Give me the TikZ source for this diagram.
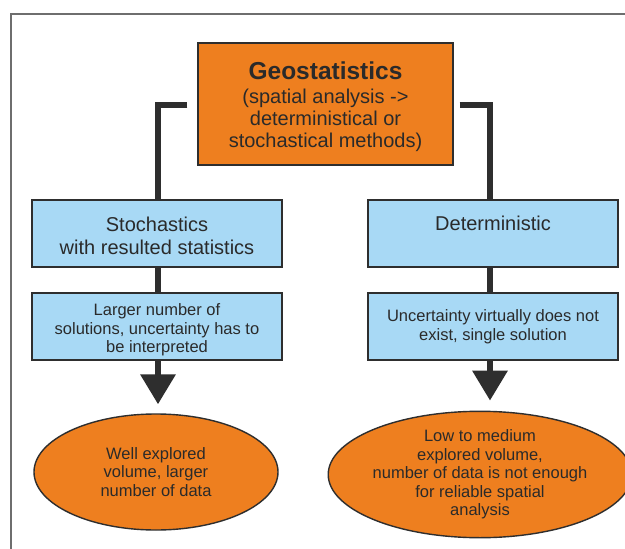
\documentclass[tikz,border=0pt]{standalone}
\usepackage{fontspec}
\setmainfont{Liberation Sans}
\usetikzlibrary{arrows.meta,shapes.geometric}
\definecolor{orng}{HTML}{EE7F1F}
\definecolor{lblue}{HTML}{A8D9F5}
\definecolor{dark}{HTML}{2E2E2E}
\definecolor{txt}{HTML}{2A2A2A}
\definecolor{framegray}{HTML}{6E6E6E}
\begin{document}
\begin{tikzpicture}[x=1pt,y=-1pt,
  box/.style={draw=dark, line width=1.4pt, rectangle, inner sep=0pt, align=center, text=txt},
  topbox/.style={box, fill=orng, minimum width=255pt, minimum height=122pt, font=\fontsize{20}{22}\selectfont},
  bluebox/.style={box, fill=lblue, minimum width=250pt, minimum height=67pt},
  oval/.style={draw=dark, line width=1.4pt, ellipse, fill=orng, inner sep=0pt, align=center, text=txt, minimum width=244pt, minimum height=116pt, font=\fontsize{16.5}{18.5}\selectfont},
  conn/.style={draw=dark, line width=6.5pt, line join=miter},
  arr/.style={conn, -{Triangle[width=34pt,length=30pt]}},
  big/.style={font=\fontsize{20}{23}\selectfont},
  small/.style={font=\fontsize{16.5}{18.5}\selectfont}
]
\useasboundingbox (0,0) rectangle (625,549);
\fill[white] (0,0) rectangle (625,549);
% frame
\draw[framegray, line width=2pt] (630,14.3) -- (11,14.3) -- (11,555);
% nodes
\node[topbox] (top) at (325.5,104) {\rule{0pt}{23pt}{\fontsize{24.5}{28}\selectfont\bfseries Geostatistics}\\[2.5pt](spatial analysis ->\\deterministical or\\stochastical methods)};
\node[bluebox, big] (stoch) at (157,233.5) {\rule{0pt}{18.5pt}Stochastics\\with resulted statistics};
\node[bluebox, big] (det) at (493,233.5) {\rule{0pt}{16pt}Deterministic\\\mbox{}};
\node[bluebox, small] (lb2) at (157,326.5) {\rule{0pt}{19pt}Larger number of\\solutions, uncertainty has to\\be interpreted};
\node[bluebox, small] (rb2) at (493,326.5) {Uncertainty virtually does not\\exist, single solution};
\node[oval] (lell) at (156,472) {Well explored\\volume, larger\\number of data};
\node[oval] (rell) at (480,474.5) {Low to medium\\explored volume,\\number of data is not enough\\for reliable spatial\\analysis};
% connector anchors
\coordinate (lstart) at ([xshift=-10pt,yshift=-1pt]top.west);
\coordinate (rstart) at ([xshift=6pt,yshift=-1pt]top.east);
\coordinate (dettop) at ([xshift=-3pt]det.north);
\coordinate (detbot) at ([xshift=-3pt]det.south);
\coordinate (rb2top) at ([xshift=-3pt]rb2.north);
\coordinate (rb2bot) at ([xshift=-3pt]rb2.south);
\coordinate (stochtop) at ([xshift=1pt]stoch.north);
\coordinate (stochbot) at ([xshift=1pt]stoch.south);
\coordinate (lb2top) at ([xshift=1pt]lb2.north);
\coordinate (lb2bot) at ([xshift=1pt]lb2.south);
% connectors
\draw[conn] (lstart) -| (stochtop);
\draw[conn] (rstart) -| (dettop);
\draw[conn] (stochbot) -- (lb2top);
\draw[conn] (detbot) -- (rb2top);
\draw[arr, shorten >=9pt] (lb2bot) -- (lb2bot |- lell.north);
\draw[arr, shorten >=10pt] (rb2bot) -- (rb2bot |- rell.north);
\end{tikzpicture}
\end{document}
